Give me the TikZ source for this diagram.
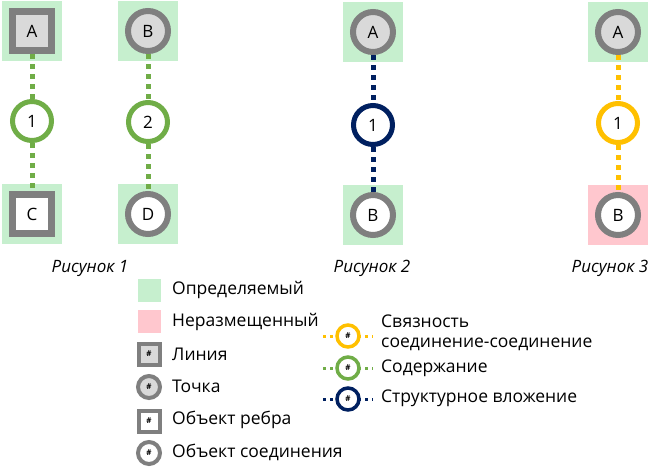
\documentclass[tikz,border=0pt]{standalone}
\usepackage{fontspec}
\setmainfont{Open Sans}
\usetikzlibrary{positioning}
\definecolor{defgreen}{HTML}{C6EFCE}
\definecolor{unplaced}{HTML}{FFC7CE}
\definecolor{objgray}{HTML}{7F7F7F}
\definecolor{objfill}{HTML}{D9D9D9}
\definecolor{contgreen}{HTML}{70AD47}
\definecolor{connyellow}{HTML}{FFC000}
\definecolor{embednavy}{HTML}{002060}
\tikzset{
  defined/.style={fill=defgreen, minimum size=60pt, inner sep=0pt},
  notplaced/.style={fill=unplaced, minimum size=60pt, inner sep=0pt},
  linebox/.style={draw=objgray, line width=7pt, fill=objfill, minimum size=39pt, inner sep=0pt, font=\fontsize{17}{19}\selectfont},
  edgebox/.style={linebox, fill=white},
  pointdot/.style={circle, draw=objgray, line width=6pt, fill=objfill, minimum size=40pt, inner sep=0pt, font=\fontsize{17}{19}\selectfont},
  junctiondot/.style={pointdot, fill=white},
  relation/.style={circle, draw=#1, line width=5pt, fill=white, minimum size=39pt, inner sep=0pt, font=\fontsize{17}{19}\selectfont},
  link/.style={draw=#1, line width=5pt, dash pattern=on 5pt off 5pt},
  caption/.style={font=\fontsize{17}{19}\selectfont\itshape},
  legtext/.style={anchor=west, font=\fontsize{17.5}{20}\selectfont, inner sep=0pt},
  legmark/.style={minimum size=23pt, inner sep=0pt},
  legbox/.style={draw=objgray, line width=4pt, minimum size=21pt, inner sep=0pt, font=\fontsize{8}{9}\selectfont\bfseries},
  legdot/.style={circle, draw=objgray, line width=4pt, minimum size=22pt, inner sep=0pt, font=\fontsize{8}{9}\selectfont\bfseries},
  legrel/.style={circle, draw=#1, line width=3.5pt, fill=white, minimum size=22pt, inner sep=0pt, font=\fontsize{8}{9}\selectfont\bfseries},
  leglink/.style={draw=#1, line width=3pt, dash pattern=on 3pt off 4pt},
}
\begin{document}
\begin{tikzpicture}[x=1pt, y=-1pt]
\useasboundingbox (0,0) rectangle (650,467);

% Рисунок 1
\node[defined] (bgA) at (32,31) {};
\node[defined] (bgC) at (32,214) {};
\node[defined] (bgB) at (148,31) {};
\node[defined] (bgD) at (148,214) {};
\node[linebox] (lineA) at (bgA) {A};
\node[edgebox] (edgeC) at (bgC) {C};
\node[pointdot] (pointB) at (bgB) {B};
\node[junctiondot] (juncD) at (bgD) {D};
\node[relation=contgreen] (cont1) at (32,121) {1};
\node[relation=contgreen] (cont2) at (148,122) {2};
\draw[link=contgreen] (lineA) -- (cont1);
\draw[link=contgreen] (cont1) -- (edgeC);
\draw[link=contgreen] (pointB) -- (cont2);
\draw[link=contgreen] (cont2) -- (juncD);
\node[caption] (cap1) at (90,268) {Рисунок 1};

% Рисунок 2
\node[defined] (bgA2) at (373,32) {};
\node[defined] (bgB2) at (373,215) {};
\node[pointdot] (pointA2) at (bgA2) {A};
\node[junctiondot] (juncB2) at (bgB2) {B};
\node[relation=embednavy] (embed1) at (373,125) {1};
\draw[link=embednavy] (pointA2) -- (embed1);
\draw[link=embednavy] (embed1) -- (juncB2);
\node[caption] (cap2) at (372,268) {Рисунок 2};

% Рисунок 3
\node[defined] (bgA3) at (618,32) {};
\node[notplaced] (bgB3) at (618,215) {};
\node[pointdot] (pointA3) at (bgA3) {A};
\node[junctiondot] (juncB3) at (bgB3) {B};
\node[relation=connyellow] (conn1) at (618,123) {1};
\draw[link=connyellow] (pointA3) -- (conn1);
\draw[link=connyellow] (conn1) -- (juncB3);
\node[caption] (cap3) at (610,268) {Рисунок 3};

% легенда: объекты
\node[legmark, fill=defgreen] (keyDef) at (149,290) {};
\node[legmark, fill=unplaced] (keyUnpl) at (149,321) {};
\node[legbox, fill=objfill] (keyLine) at (149,354) {\#};
\node[legdot, fill=objfill] (keyPoint) at (149,387) {\#};
\node[legbox, fill=white] (keyEdge) at (149,421) {\#};
\node[legdot, fill=white] (keyJunc) at (149,453) {\#};
\node[legtext] at (172,290) {Определяемый};
\node[legtext] at (172,322) {Неразмещенный};
\node[legtext] at (172,354) {Линия};
\node[legtext] at (172,386) {Точка};
\node[legtext] at (172,420) {Объект ребра};
\node[legtext] at (172,452) {Объект соединения};

% легенда: связи
\coordinate (connL) at (323,336);
\coordinate (connR) at (373,336);
\coordinate (contL) at (323,368);
\coordinate (contR) at (373,368);
\coordinate (embL) at (323,399);
\coordinate (embR) at (373,399);
\draw[leglink=connyellow] (connL) -- (connR);
\draw[leglink=contgreen] (contL) -- (contR);
\draw[leglink=embednavy] (embL) -- (embR);
\node[legrel=connyellow] (keyConn) at (348,336) {\#};
\node[legrel=contgreen] (keyCont) at (348,368) {\#};
\node[legrel=embednavy] (keyEmb) at (348,399) {\#};
\node[legtext, align=left] at (381,333) {Связность\\соединение-соединение};
\node[legtext] at (381,368) {Содержание};
\node[legtext] at (381,398) {Структурное вложение};
\end{tikzpicture}
\end{document}
